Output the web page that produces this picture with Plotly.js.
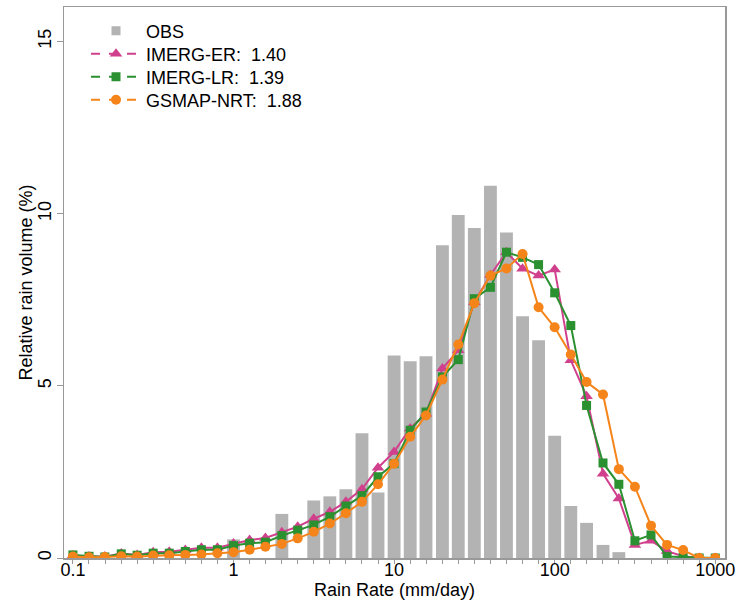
<!DOCTYPE html>
<html>
<head>
<meta charset="utf-8">
<script src="https://cdn.plot.ly/plotly-3.0.1.min.js"></script>
<style>html,body{margin:0;padding:0;background:#fff;}#chart{width:741px;height:600px;}</style>
</head>
<body>
<div id="chart"></div>
<script>
// Rain-rate bin centres (mm/day), 10 bins per decade from 0.1 to 1000
const rainRate = [0.1,0.126,0.158,0.2,0.251,0.316,0.398,0.501,0.631,0.794,
  1,1.26,1.58,2,2.51,3.16,3.98,5.01,6.31,7.94,
  10,12.6,15.8,20,25.1,31.6,39.8,50.1,63.1,79.4,
  100,126,158,200,251,316,398,501,631,794,1000];

const obs = [0,0,0,0,0,0,0,0,0,0,
  0.54,0,0,1.28,0,1.67,1.79,2.0,3.62,1.90,
  5.88,5.71,5.86,9.08,9.96,9.58,10.81,9.45,7.02,6.32,
  3.55,1.51,1.02,0.38,0.17,0,0,0,0,0,0];

const imergER = [0.07,0.04,0.04,0.13,0.09,0.17,0.18,0.23,0.30,0.30,
  0.42,0.52,0.58,0.75,0.91,1.14,1.34,1.63,2.0,2.62,
  3.08,3.76,4.19,5.50,6.03,7.43,8.22,8.88,8.40,8.20,
  8.38,5.74,4.70,2.45,1.73,0.38,0.50,0.20,0.05,0,0];

const imergLR = [0.09,0.05,0.03,0.12,0.08,0.14,0.14,0.19,0.24,0.24,
  0.36,0.43,0.46,0.65,0.81,0.96,1.20,1.51,1.81,2.36,
  2.74,3.71,4.24,5.26,5.76,7.53,7.86,8.88,8.73,8.52,
  7.70,6.75,4.43,2.76,2.14,0.50,0.67,0.04,0.02,0,0];

const gsmapNRT = [0.04,0.02,0.03,0.05,0.04,0.07,0.08,0.09,0.10,0.14,
  0.17,0.24,0.33,0.41,0.57,0.76,1.00,1.30,1.63,2.14,
  2.74,3.52,4.14,5.18,6.20,7.40,8.20,8.41,8.83,7.28,
  6.70,5.91,5.11,4.75,2.58,2.07,0.94,0.38,0.23,0,0];

const legendLabels = ['OBS','IMERG-ER:\u00a0 1.40','IMERG-LR:\u00a0 1.39','GSMAP-NRT:\u00a0 1.88'];
const yTicks = [0,5,10,15];
const xTickVals = [0.1,1,10,100,1000];
const xTickText = ['0.1','1','10','100','1000'];
const yTitle = 'Relative rain volume (%)';
const xTitle = 'Rain Rate (mm/day)';

const C_OBS = '#b3b3b3', C_ER = '#d0408c', C_LR = '#2a9030', C_GS = '#f5841a';

const logRate = rainRate.map(v => Math.log10(v));

const traces = [
  {type:'bar', x: logRate, y: obs, xaxis:'x', yaxis:'y', width:0.08,
   marker:{color:C_OBS, line:{width:0}}, showlegend:false, hoverinfo:'skip'},
  {type:'scatter', mode:'lines+markers', x: rainRate, y: imergER, xaxis:'x2', name: legendLabels[1],
   line:{color:C_ER, width:2}, marker:{symbol:'triangle-up', size:11, color:C_ER}, showlegend:false},
  {type:'scatter', mode:'lines+markers', x: rainRate, y: imergLR, xaxis:'x2', name: legendLabels[2],
   line:{color:C_LR, width:2}, marker:{symbol:'square', size:9, color:C_LR}, showlegend:false},
  {type:'scatter', mode:'lines+markers', x: rainRate, y: gsmapNRT, xaxis:'x2', name: legendLabels[3],
   line:{color:C_GS, width:2}, marker:{symbol:'circle', size:10, color:C_GS}, showlegend:false},
  // legend entries (one legend per row so the row spacing can match)
  {type:'scatter', mode:'markers', x:[null], y:[null], xaxis:'x2', name: legendLabels[0], legend:'legend',
   marker:{symbol:'square', size:9, color:C_OBS}},
  {type:'scatter', mode:'lines+markers', x:[null], y:[null], xaxis:'x2', name: legendLabels[1], legend:'legend2',
   line:{color:C_ER, width:2, dash:'dash'}, marker:{symbol:'triangle-up', size:11, color:C_ER}},
  {type:'scatter', mode:'lines+markers', x:[null], y:[null], xaxis:'x2', name: legendLabels[2], legend:'legend3',
   line:{color:C_LR, width:2, dash:'dash'}, marker:{symbol:'square', size:9, color:C_LR}},
  {type:'scatter', mode:'lines+markers', x:[null], y:[null], xaxis:'x2', name: legendLabels[3], legend:'legend4',
   line:{color:C_GS, width:2, dash:'dash'}, marker:{symbol:'circle', size:10, color:C_GS}}
];

const xr = [Math.log10(0.088), Math.log10(1150)];
const legBase = {x:0.0333, xanchor:'left', yanchor:'middle', bgcolor:'rgba(0,0,0,0)',
  font:{size:18}, itemwidth:50};

const layout = {
  width:741, height:600,
  margin:{l:64, r:16, t:7, b:42},
  paper_bgcolor:'#fff', plot_bgcolor:'#fff',
  font:{family:'"Liberation Sans", Arial, sans-serif', size:18, color:'#000'},
  showlegend:true,
  legend: Object.assign({}, legBase, {y:0.9564}),
  legend2: Object.assign({}, legBase, {y:0.9147}),
  legend3: Object.assign({}, legBase, {y:0.8730}),
  legend4: Object.assign({}, legBase, {y:0.8312}),
  xaxis:{type:'linear', range:xr, tickmode:'array', tickvals:xTickVals.map(v => Math.log10(v)), ticktext:xTickText,
    ticks:'outside', ticklen:4, tickcolor:'#999', tickwidth:1, ticklabelstandoff:-9,
    minor:{tickmode:'linear', tick0:0, dtick:0.1, ticks:'outside', ticklen:4, tickcolor:'#999', tickwidth:1, showgrid:false},
    showline:true, linecolor:'#999', linewidth:1.5, mirror:true, showgrid:false, zeroline:false,
    tickfont:{size:18}, title:{text:xTitle, font:{size:18}, standoff:0}},
  xaxis2:{type:'log', range:xr, overlaying:'x', side:'bottom', ticks:'', showticklabels:false,
    showgrid:false, zeroline:false, showline:false},
  yaxis:{range:[0,16], tickvals:yTicks, tickangle:-90, ticks:'outside', ticklen:6, tickcolor:'#999',
    ticklabelstandoff:-2,
    showline:true, linecolor:'#999', linewidth:1.5, mirror:true, showgrid:false, zeroline:false,
    tickfont:{size:18}},
  annotations:[{text:yTitle, xref:'paper', yref:'paper', x:-0.059, y:0.5, xanchor:'center', yanchor:'middle',
    textangle:-90, showarrow:false, font:{size:18, color:'#000'}}]
};

Plotly.newPlot('chart', traces, layout, {staticPlot:true, displayModeBar:false});
</script>
</body>
</html>
